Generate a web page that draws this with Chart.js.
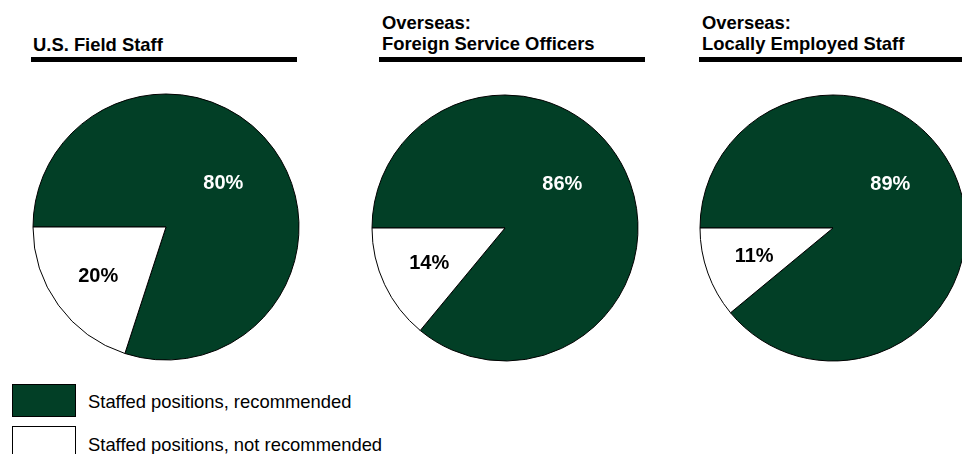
<!DOCTYPE html>
<html>
<head>
<meta charset="utf-8">
<script src="https://cdn.jsdelivr.net/npm/chart.js@4.4.1/dist/chart.umd.min.js"></script>
<style>
  html, body { margin:0; padding:0; background:#fff; width:962px; height:454px; overflow:hidden; position:relative;
    font-family: "Liberation Sans", Arial, sans-serif; }
  .title { position:absolute; font-weight:bold; font-size:18.4px; line-height:21px; color:#000; white-space:nowrap; }
  .rule { position:absolute; height:5px; background:#000; }
  .pie { position:absolute; width:280px; height:280px; }
  .legend { position:absolute; left:12px; font-size:18.4px; color:#000; }
  .legrow { position:absolute; left:0; white-space:nowrap; }
  .swatch { position:absolute; left:0; width:64px; height:33px; box-sizing:border-box; border:1px solid #000; }
  .legtext { position:absolute; left:76px; }
</style>
</head>
<body>
<script>
// ---- data ----
const categories = ['Staffed positions, recommended', 'Staffed positions, not recommended'];
const panelTitles = [['U.S. Field Staff'], ['Overseas:', 'Foreign Service Officers'], ['Overseas:', 'Locally Employed Staff']];
const fieldStaff = [80, 20];
const foreignServiceOfficers = [86, 14];
const locallyEmployedStaff = [89, 11];
const seriesList = [fieldStaff, foreignServiceOfficers, locallyEmployedStaff];

// ---- styling / layout ----
const colors = ['#023f26', '#ffffff'];
const panels = [
  { cx: 166, cy: 227, r: 133, titleX: 33, titleY: 50, ruleX: 31, ruleW: 266 },
  { cx: 504.5, cy: 227.5, r: 133, titleX: 382, titleY: 49, ruleX: 379, ruleW: 266 },
  { cx: 833, cy: 228, r: 133, titleX: 702, titleY: 49, ruleX: 699, ruleW: 270 }
];

const labelPlugin = {
  id: 'sliceLabels',
  afterDatasetsDraw(chart) {
    const ctx = chart.ctx;
    const meta = chart.getDatasetMeta(0);
    const data = chart.data.datasets[0].data;
    ctx.save();
    ctx.font = 'bold 20px "Liberation Sans", Arial, sans-serif';
    ctx.textAlign = 'center';
    ctx.textBaseline = 'middle';
    meta.data.forEach((arc, i) => {
      const p = arc.getProps(['x', 'y', 'startAngle', 'endAngle', 'outerRadius'], true);
      let ang, frac;
      if (i === 0) { ang = -37 * Math.PI / 180; frac = 0.54; ctx.fillStyle = '#fff'; }
      else { ang = (p.startAngle + p.endAngle) / 2; frac = 0.63; ctx.fillStyle = '#000'; }
      const x = p.x + Math.cos(ang) * p.outerRadius * frac;
      const y = p.y + Math.sin(ang) * p.outerRadius * frac;
      ctx.fillText(data[i] + '%', x, y);
    });
    ctx.restore();
  }
};

panels.forEach((pn, k) => {
  // title
  const t = document.createElement('div');
  t.className = 'title';
  const lines = panelTitles[k];
  t.style.left = pn.titleX + 'px';
  t.style.top = (pn.titleY - 16 - (lines.length - 1) * 21) + 'px';
  t.innerHTML = lines.join('<br>');
  document.body.appendChild(t);
  const rl = document.createElement('div');
  rl.className = 'rule';
  rl.style.left = pn.ruleX + 'px';
  rl.style.top = '57px';
  rl.style.width = pn.ruleW + 'px';
  document.body.appendChild(rl);
  // pie
  const wrap = document.createElement('div');
  wrap.className = 'pie';
  wrap.style.left = (pn.cx - 140) + 'px';
  wrap.style.top = (pn.cy - 140) + 'px';
  const cv = document.createElement('canvas');
  cv.width = 280; cv.height = 280;
  wrap.appendChild(cv);
  document.body.appendChild(wrap);
  new Chart(cv, {
    type: 'pie',
    data: {
      labels: categories,
      datasets: [{ data: seriesList[k], backgroundColor: colors, borderColor: '#000', borderWidth: 1, hoverOffset: 0 }]
    },
    options: {
      responsive: false,
      animation: false,
      rotation: -90,
      radius: pn.r,
      layout: { padding: 0 },
      plugins: { legend: { display: false }, tooltip: { enabled: false } },
      events: []
    },
    plugins: [labelPlugin]
  });
});

// legend
const lg = document.createElement('div');
lg.className = 'legend';
lg.style.top = '384px';
categories.forEach((c, i) => {
  const row = document.createElement('div');
  row.className = 'legrow';
  row.style.top = (i * 42) + 'px';
  const sw = document.createElement('div');
  sw.className = 'swatch';
  sw.style.background = colors[i];
  const tx = document.createElement('div');
  tx.className = 'legtext';
  tx.style.top = (i === 0 ? 7 : 8) + 'px';
  tx.textContent = c;
  row.appendChild(sw); row.appendChild(tx);
  lg.appendChild(row);
});
document.body.appendChild(lg);
</script>
</body>
</html>
